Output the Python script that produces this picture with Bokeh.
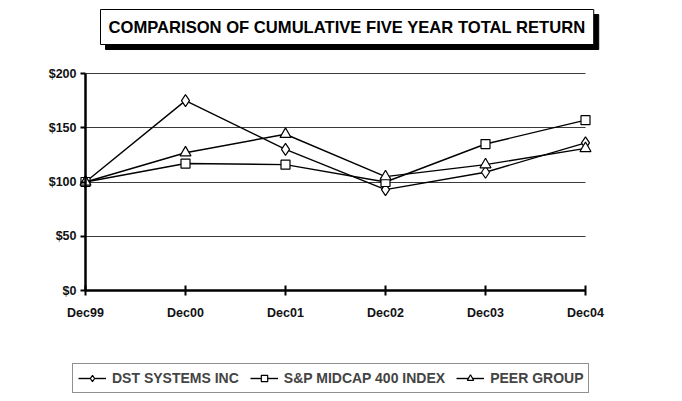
from bokeh.plotting import figure
from bokeh.models import (Range1d, FixedTicker, PrintfTickFormatter, Legend, LegendItem, Label)
from bokeh.embed import file_html
from bokeh.resources import INLINE

categories = ["Dec99", "Dec00", "Dec01", "Dec02", "Dec03", "Dec04"]
dst = [100, 175, 130, 93, 109, 136]
sp400 = [100, 117, 116, 100, 135, 157]
peer = [100, 127, 144, 105, 116, 131]
y_ticks = [0, 50, 100, 150, 200]
title_text = "COMPARISON OF CUMULATIVE FIVE YEAR TOTAL RETURN"
names = ["DST SYSTEMS INC", "S&P MIDCAP 400 INDEX", "PEER GROUP"]

xs = list(range(len(categories)))
FONT = "Liberation Sans"

W, H = 674, 393
# layout: plot area (Dec99..Dec04, $0..$200) placed inside the canvas
left_px, x_step = 85, 100
bottom_px, top_px = 290, 73
y_per_px = 200 / (bottom_px - top_px)
x0 = -left_px / x_step
x1 = x0 + W / x_step
y0 = -(H - bottom_px) * y_per_px
y1 = 200 + top_px * y_per_px

p = figure(width=W, height=H, output_backend="svg", toolbar_location=None,
           x_range=Range1d(x0, x1), y_range=Range1d(y0, y1),
           min_border=0, min_border_left=0, min_border_right=0,
           min_border_top=0, min_border_bottom=0)
p.outline_line_color = None
p.xgrid.grid_line_color = None
p.ygrid.ticker = FixedTicker(ticks=y_ticks)
p.ygrid.grid_line_color = "#3a3a3a"
p.ygrid.grid_line_width = 1
p.ygrid.cross_bounds = (0, len(categories) - 1)

yax = p.yaxis[0]
yax.fixed_location = 0
yax.bounds = (0, 200)
yax.ticker = FixedTicker(ticks=y_ticks)
yax.formatter = PrintfTickFormatter(format="$%d")
yax.axis_line_width = 2.5
yax.major_tick_line_width = 2
yax.major_tick_in = 0
yax.major_tick_out = 5
yax.minor_tick_line_color = None
yax.major_label_text_font = FONT
yax.major_label_text_font_style = "bold"
yax.major_label_text_font_size = "12.5px"
yax.major_label_text_color = "#111111"
yax.major_label_standoff = 4

xax = p.xaxis[0]
xax.fixed_location = 0
xax.bounds = (0, len(categories) - 1)
xax.ticker = FixedTicker(ticks=xs)
xax.major_label_overrides = {i: c for i, c in enumerate(categories)}
xax.axis_line_width = 2.5
xax.major_tick_line_width = 2
xax.major_tick_in = 5
xax.major_tick_out = 5
xax.minor_tick_line_color = None
xax.major_label_text_font = FONT
xax.major_label_text_font_style = "bold"
xax.major_label_text_font_size = "12.5px"
xax.major_label_text_color = "#111111"
xax.major_label_standoff = 10

items = []
for vals, marker, size, name in [(dst, "diamond", 12, names[0]),
                                 (sp400, "square", 9, names[1]),
                                 (peer, "triangle", 11, names[2])]:
    lr = p.line(xs, vals, line_color="black", line_width=1.4)
    sr = p.scatter(xs, vals, marker=marker, size=size, fill_color="white",
                   line_color="black", line_width=1.2)
    items.append(LegendItem(label=name, renderers=[lr, sr]))

legend = Legend(items=items, orientation="horizontal", location=(72, max(H - 397, 0)),
                label_text_font=FONT, label_text_font_style="bold",
                label_text_font_size="14px", glyph_width=28, glyph_height=16,
                label_height=18, label_standoff=6, spacing=11, padding=5, margin=0,
                border_line_color="#222222", border_line_width=1.5,
                background_fill_color="white", background_fill_alpha=1)
p.add_layout(legend, "center")

shadow = Label(x=105, y=H - 14, x_units="screen", y_units="screen", text=title_text,
               anchor="top_left", text_font=FONT, text_font_style="bold",
               text_font_size="16.6px", text_color="black", padding=8,
               background_fill_color="black", border_line_color="black")
main = Label(x=100, y=H - 9, x_units="screen", y_units="screen", text=title_text,
             anchor="top_left", text_font=FONT, text_font_style="bold",
             text_font_size="16.6px", text_color="black", padding=8,
             background_fill_color="white", border_line_color="black", border_line_width=1)
p.add_layout(shadow)
p.add_layout(main)

open("out.html", "w").write(file_html(p, INLINE))
